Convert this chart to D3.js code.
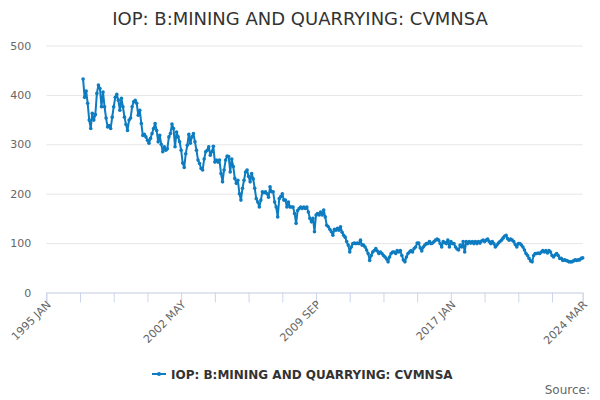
<html lang="en">
  <head>
    <meta charset="utf-8" />
    <title>IOP: B:MINING AND QUARRYING: CVMNSA</title>
    <script src="https://d3js.org/d3.v7.min.js"></script>
    <style>
      body { margin: 0; background: #ffffff; }
      text { font-family: "DejaVu Sans", Verdana, sans-serif; }
    </style>
  </head>
  <body>
    <div id="chart"></div>
  </body>
  <script>
    var width = 600,   // Canvas dimension
        height = 400;

    var seriesName = "IOP: B:MINING AND QUARRYING: CVMNSA";

    // Category axis runs monthly from 1995 JAN to 2024 MAR
    var monthNames = ["JAN", "FEB", "MAR", "APR", "MAY", "JUN",
                      "JUL", "AUG", "SEP", "OCT", "NOV", "DEC"];
    var firstYear = 1995, lastYear = 2024, lastMonth = 3;

    // Series starts 1997 JAN
    var firstData = "1997 JAN";
    var values = [
      432, 395, 408, 383, 349, 332, 363, 349, 360, 403, 420, 413,  // 1997
      376, 406, 376, 353, 335, 338, 332, 355, 376, 395, 401, 389,  // 1998
      369, 393, 376, 355, 340, 328, 349, 353, 376, 386, 389, 383,  // 1999
      359, 369, 342, 318, 320, 315, 308, 302, 312, 322, 332, 342,  // 2000
      328, 305, 318, 300, 285, 295, 288, 291, 315, 322, 341, 332,  // 2001
      295, 325, 315, 305, 288, 262, 253, 281, 298, 320, 302, 315,  // 2002
      322, 305, 288, 268, 261, 251, 248, 270, 285, 288, 295, 278,  // 2003
      285, 296, 264, 268, 264, 268, 241, 224, 248, 268, 276, 275,  // 2004
      244, 270, 255, 231, 221, 227, 200, 187, 211, 227, 244, 248,  // 2005
      235, 224, 241, 230, 211, 190, 183, 173, 187, 204, 202, 204,  // 2006
      200, 193, 214, 204, 204, 183, 173, 153, 190, 194, 200, 187,  // 2007
      187, 173, 183, 173, 173, 173, 160, 140, 166, 170, 173, 170,  // 2008
      173, 170, 173, 163, 150, 143, 150, 123, 157, 160, 157, 163,  // 2009
      157, 167, 153, 136, 133, 128, 123, 116, 128, 126, 130, 126,  // 2010
      133, 122, 116, 112, 103,  96,  82,  92,  99, 100,  99, 100,  // 2011
       99, 106,  96,  96,  92,  86,  79,  65,  75,  82,  85,  89,  // 2012
       84,  79,  82,  79,  75,  72,  68,  62,  72,  79,  82,  82,  // 2013
       79,  85,  82,  85,  75,  66,  62,  72,  79,  82,  85,  82,  // 2014
       89,  92, 100, 100,  90,  84,  92,  96,  99,  99, 103,  99,  // 2015
      100, 103, 106, 108, 106,  99,  92, 103, 101,  99, 106,  92,  // 2016
      103,  99,  99,  92,  88,  86,  96,  92, 103,  82, 103,  99,  // 2017
      103, 100, 103,  99, 103,  99, 103, 100, 104, 106, 103, 106,  // 2018
      108, 103,  99, 103,  99,  92,  96, 100, 103, 106, 110, 114,  // 2019
      116, 109, 106, 108, 106, 103,  97,  92,  99,  99,  96,  92,  // 2020
       86,  79,  75,  69,  64,  62,  75,  79,  79,  80,  79,  82,  // 2021
       85,  82,  85,  80,  85,  82,  75,  72,  76,  79,  75,  69,  // 2022
       69,  65,  66,  65,  64,  62,  62,  62,  64,  66,  65,  66,  // 2023
       66,  69,  70                                                // 2024
    ];

    var tickLabels = ["1995 JAN", "2002 MAY", "2009 SEP", "2017 JAN", "2024 MAR"];
    var yTicks = [0, 100, 200, 300, 400, 500];

    // Build the category list
    var categories = [];
    for (var yr = firstYear; yr <= lastYear; yr++) {
      for (var m = 0; m < 12; m++) {
        if (yr === lastYear && m >= lastMonth) break;
        categories.push(yr + " " + monthNames[m]);
      }
    }
    var offset = categories.indexOf(firstData);
    var points = values.map(function(v, i) { return {cat: categories[i + offset], value: v}; });

    // Plot area
    var plotLeft = 46.3, plotRight = 582.7, plotTop = 45.5, plotBottom = 292.5;

    var x = d3.scalePoint()
              .domain(categories)
              .range([plotLeft, plotRight]);

    var yScale = d3.scaleLinear()
                   .domain([0, 500])
                   .range([plotBottom, plotTop]);

    var svg = d3.select("#chart")
                .append("svg")
                .attr("width", width)
                .attr("height", height);

    // Title
    svg.append("text")
       .attr("x", width / 2)
       .attr("y", 25)
       .attr("text-anchor", "middle")
       .attr("fill", "#333333")
       .style("font-size", "18px")
       .text(seriesName);

    // Grid lines and y labels
    var yAxis = d3.axisLeft(yScale)
                  .tickValues(yTicks)
                  .tickSize(-(plotRight - plotLeft))
                  .tickPadding(15);
    var yG = svg.append("g")
                .attr("transform", "translate(" + plotLeft + ",0)")
                .call(yAxis);
    yG.select(".domain").remove();
    yG.selectAll("line").attr("stroke", "#e6e6e6");
    yG.selectAll("text")
      .attr("fill", "#666666")
      .style("font-size", "11px")
      .style("font-family", "DejaVu Sans, sans-serif");

    // X axis: a tick every 22 months plus the last month
    var tickCats = categories.filter(function(d, i) { return i % 22 === 0; });
    tickCats.push(categories[categories.length - 1]);
    var xAxis = d3.axisBottom(x)
                  .tickValues(tickCats)
                  .tickSize(10)
                  .tickFormat(function(d) { return tickLabels.indexOf(d) >= 0 ? d : ""; });
    var xG = svg.append("g")
                .attr("transform", "translate(0," + plotBottom + ")")
                .call(xAxis);
    xG.select(".domain").attr("stroke", "#ccd6eb");
    xG.selectAll("line").attr("stroke", "#ccd6eb");
    xG.selectAll("text")
      .attr("fill", "#666666")
      .style("font-size", "11px")
      .style("font-family", "DejaVu Sans, sans-serif")
      .attr("text-anchor", "end")
      .attr("dy", null)
      .attr("transform", "translate(2,10) rotate(-45)")
      .attr("y", 4)
      .attr("x", 0);

    // Line
    var line = d3.line()
                 .x(function(d) { return x(d.cat); })
                 .y(function(d) { return yScale(d.value); });

    svg.append("path")
       .datum(points)
       .attr("d", line)
       .attr("fill", "none")
       .attr("stroke", "#0d7cc1")
       .attr("stroke-width", 2)
       .attr("stroke-linejoin", "round");

    svg.selectAll("circle.dot")
       .data(points)
       .enter().append("circle")
       .attr("class", "dot")
       .attr("cx", function(d) { return x(d.cat); })
       .attr("cy", function(d) { return yScale(d.value); })
       .attr("r", 1.8)
       .attr("fill", "#0d7cc1");

    // Legend
    var legend = svg.append("g").attr("transform", "translate(152,374)");
    legend.append("line")
          .attr("x1", 0).attr("x2", 14)
          .attr("y1", 0).attr("y2", 0)
          .attr("stroke", "#0d7cc1")
          .attr("stroke-width", 2);
    legend.append("circle")
          .attr("cx", 7).attr("cy", 0).attr("r", 2)
          .attr("fill", "#0d7cc1");
    legend.append("text")
          .attr("x", 19)
          .attr("y", 4.5)
          .attr("fill", "#333333")
          .style("font-size", "12px")
          .style("font-weight", "bold")
          .text(seriesName);

    // Credits
    svg.append("text")
       .attr("x", 590)
       .attr("y", 394)
       .attr("text-anchor", "end")
       .attr("fill", "#666666")
       .style("font-size", "12px")
       .text("Source:");
  </script>
</html>
